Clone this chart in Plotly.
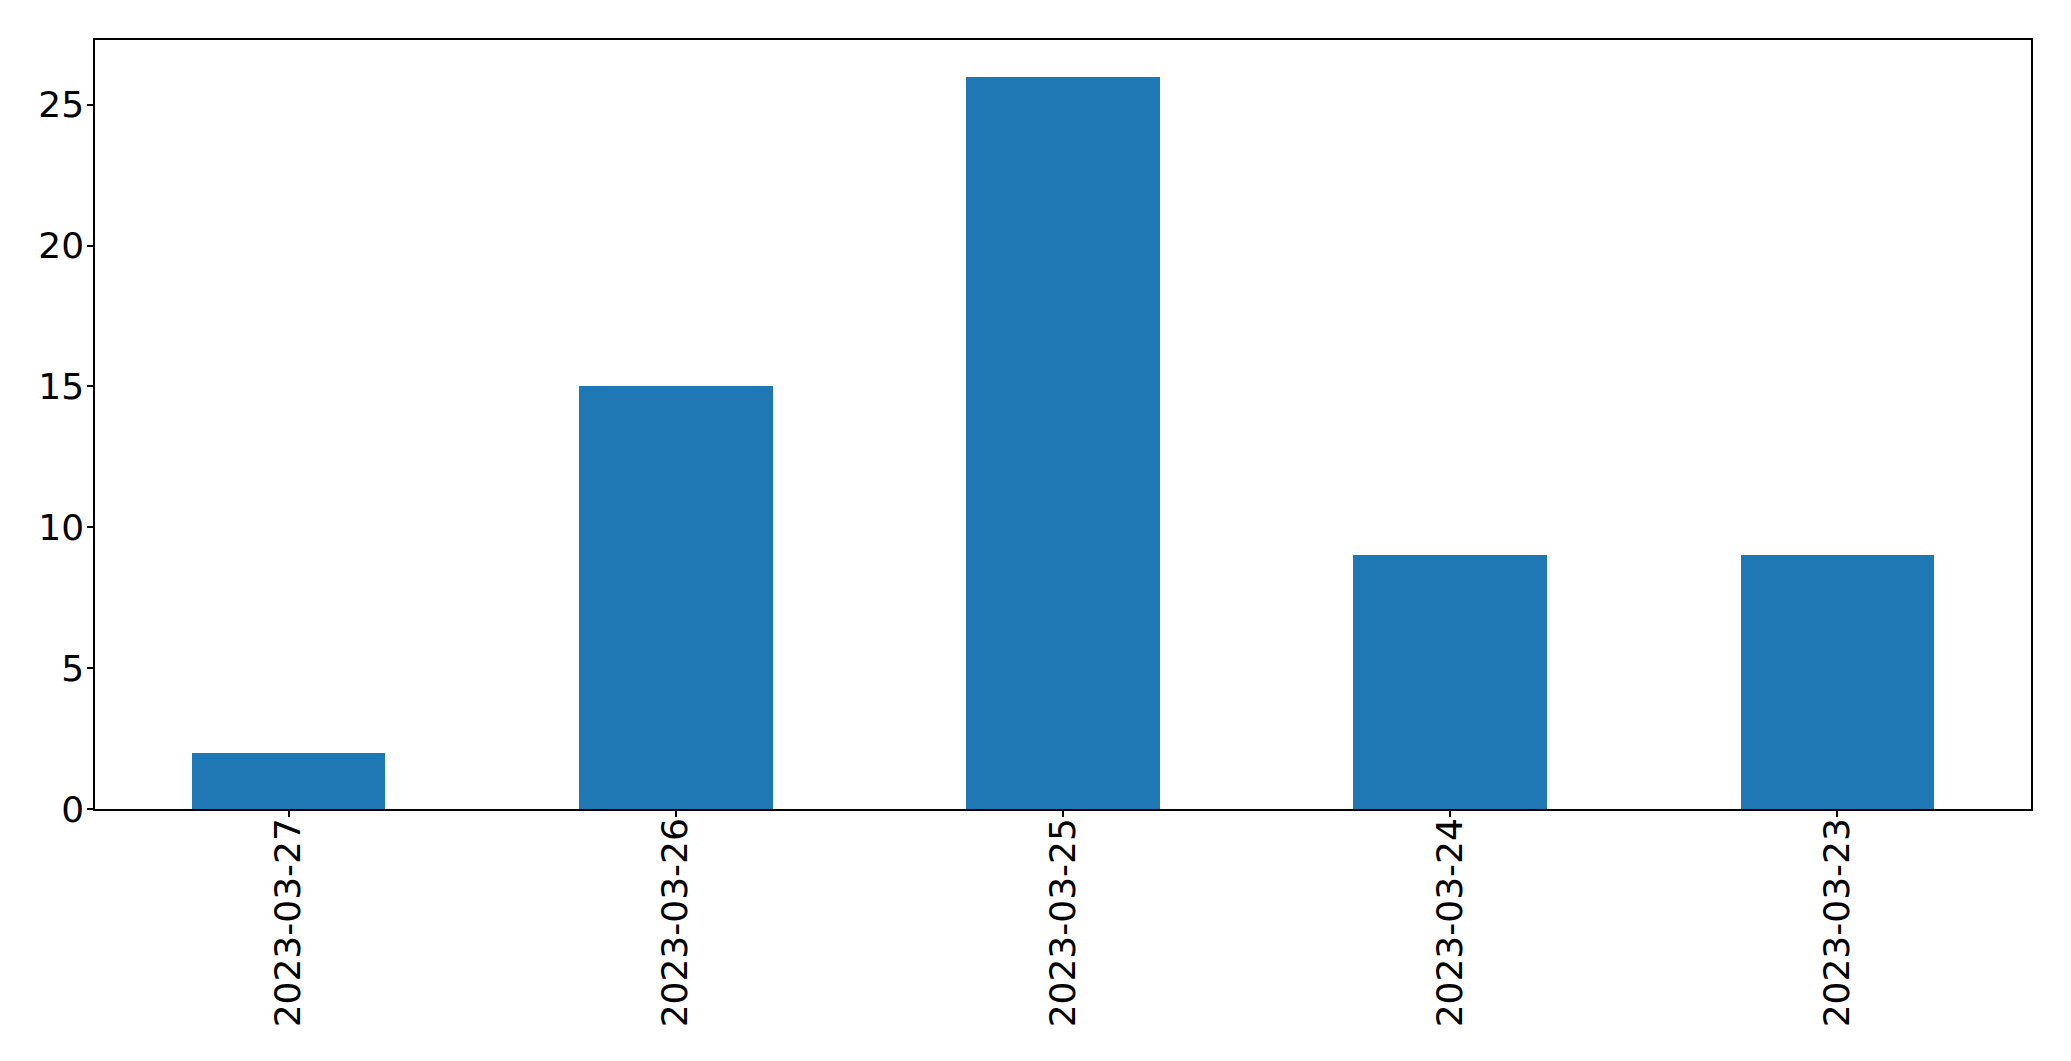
import plotly.graph_objects as go

dates = ["2023-03-27", "2023-03-26", "2023-03-25", "2023-03-24", "2023-03-23"]
counts = [2, 15, 26, 9, 9]
y_ticks = [0, 5, 10, 15, 20, 25]

fig = go.Figure(go.Bar(x=dates, y=counts, width=0.5, marker=dict(color="#1f77b4", line=dict(width=0))))

W, H = 2071, 1061
fig.update_layout(
    width=W, height=H,
    margin=dict(l=86.5, r=47.5, t=31.5, b=260, pad=0),
    paper_bgcolor="white", plot_bgcolor="white",
    font=dict(family="DejaVu Sans", size=36, color="black"),
    showlegend=False,
    bargap=0,
)
fig.update_xaxes(
    type="category", range=[-0.5, 4.5],
    showline=True, linecolor="black", linewidth=1.5, mirror=True,
    ticks="outside", ticklen=6, tickwidth=1.5, tickcolor="black",
    tickangle=-90, showgrid=False, zeroline=False, ticklabelstandoff=-13,
    tickfont=dict(family="DejaVu Sans", size=36, color="black"),
)
fig.update_yaxes(
    range=[0, 27.3], tickvals=y_ticks,
    showline=True, linecolor="black", linewidth=1.5, mirror=True,
    ticks="outside", ticklen=6, tickwidth=1.5, tickcolor="black",
    showgrid=False, zeroline=False, ticklabelstandoff=-4,
    tickfont=dict(family="DejaVu Sans", size=36, color="black"),
)
fig.write_html("out.html")
